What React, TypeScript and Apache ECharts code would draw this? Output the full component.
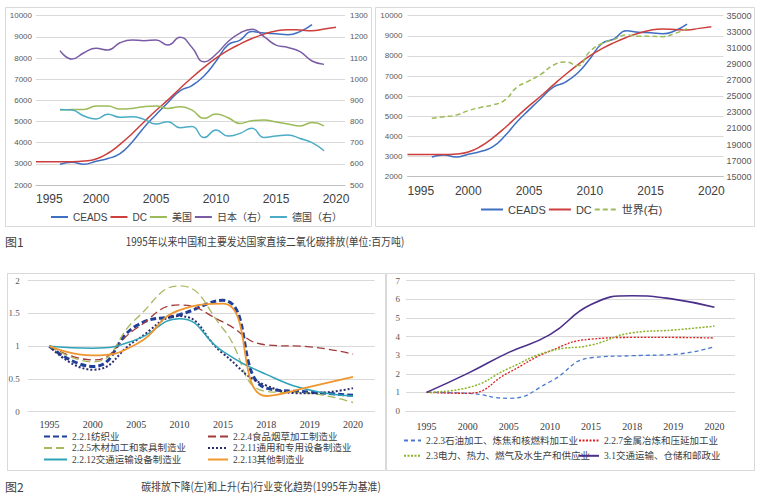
import React, { useEffect, useRef } from 'react';
import * as echarts from 'echarts';

// ---------- Figure 1 data ----------
const dcYears = [1995, 1996, 1997, 1998, 1999, 2000, 2001, 2002, 2003, 2004, 2005, 2006, 2007, 2008, 2009, 2010, 2011, 2012, 2013, 2014, 2015, 2016, 2017, 2018, 2019, 2020];
const dcValues = [3100, 3100, 3100, 3100, 3130, 3230, 3500, 3920, 4420, 4980, 5520, 6020, 6560, 7080, 7560, 8000, 8360, 8660, 8920, 9130, 9280, 9340, 9320, 9290, 9370, 9450];
const ceadsYears = [1997, 1998, 1999, 2000, 2001, 2002, 2003, 2004, 2005, 2006, 2007, 2008, 2009, 2010, 2011, 2012, 2013, 2014, 2015, 2016, 2017, 2018];
const ceadsValues = [2980, 3080, 2980, 3120, 3250, 3480, 4020, 4720, 5320, 5900, 6450, 6700, 7150, 7850, 8620, 8850, 9250, 9180, 9150, 9100, 9250, 9580];
const devYears = [1997, 1998, 1999, 2000, 2001, 2002, 2003, 2004, 2005, 2006, 2007, 2008, 2009, 2010, 2011, 2012, 2013, 2014, 2015, 2016, 2017, 2018, 2019];
const usValues = [5540, 5570, 5570, 5730, 5730, 5590, 5620, 5700, 5730, 5620, 5700, 5540, 5150, 5350, 5180, 4910, 5040, 5070, 4980, 4880, 4790, 4950, 4790];
const japanValues = [1135, 1095, 1125, 1146, 1138, 1172, 1185, 1182, 1185, 1161, 1198, 1150, 1082, 1118, 1177, 1218, 1236, 1201, 1161, 1150, 1130, 1086, 1070];
const germanyValues = [857, 854, 826, 812, 834, 820, 823, 810, 788, 799, 771, 776, 724, 760, 731, 744, 768, 725, 731, 736, 720, 700, 662];
const worldYears = [1997, 1998, 1999, 2000, 2001, 2002, 2003, 2004, 2005, 2006, 2007, 2008, 2009, 2010, 2011, 2012, 2013, 2014, 2015, 2016, 2017, 2018];
const worldValues = [22250, 22450, 22650, 23200, 23600, 23900, 24500, 26100, 26900, 27750, 28850, 29250, 28800, 30550, 31550, 32050, 32600, 32450, 32450, 32400, 32800, 33400];

// ---------- Figure 2 data ----------
const sectorCats = ['1995', '2000', '2005', '2010', '2015', '2018', '2019', '2020'];
const s221 = [1, 0.69, 1.31, 1.48, 1.7, 0.36, 0.3, 0.25];
const s224 = [1, 0.79, 1.27, 1.63, 1.37, 1.02, 0.99, 0.88];
const s225 = [1, 0.76, 1.42, 1.92, 1.27, 0.31, 0.28, 0.14];
const s2211 = [1, 0.64, 1.09, 1.46, 0.89, 0.4, 0.28, 0.36];
const s2212 = [1, 0.97, 1.1, 1.42, 0.92, 0.57, 0.33, 0.24];
const s2213 = [1, 0.86, 1.03, 1.55, 1.65, 0.24, 0.38, 0.53];
const s223 = [1, 0.95, 0.68, 1.57, 2.86, 2.97, 3.04, 3.45];
const s227 = [1, 0.95, 2.07, 3.22, 3.86, 3.95, 3.95, 3.92];
const s23 = [1, 1.25, 2.29, 3.22, 3.54, 4.2, 4.35, 4.56];
const s31 = [1, 2.02, 3.15, 4.1, 5.72, 6.19, 6.01, 5.57];

const n221 = '2.2.1纺织业';
const n224 = '2.2.4食品烟草加工制造业';
const n225 = '2.2.5木材加工和家具制造业';
const n2211 = '2.2.11通用和专用设备制造业';
const n2212 = '2.2.12交通运输设备制造业';
const n2213 = '2.2.13其他制造业';
const n223 = '2.2.3石油加工、炼焦和核燃料加工业';
const n227 = '2.2.7金属冶炼和压延加工业';
const n23 = '2.3电力、热力、燃气及水生产和供应业';
const n31 = '3.1交通运输、仓储和邮政业';

const pairs = (xs: number[], ys: number[]) => xs.map((x, i) => [x, ys[i]]);

const SANS = "'Liberation Sans', 'Noto Sans CJK SC', sans-serif";
const SERIF = "'Liberation Serif', 'Noto Sans CJK SC', serif";
const CJK = "'Noto Sans CJK SC', sans-serif";
const GRID_C = '#d9d9d9';
const TXT = '#404040';

const yearFmt = (v: number) => (Math.abs(v % 5) < 1e-6 ? String(v) : '');
const plainFmt = (v: number) => String(v);

function lineSeries(name: string, xi: number, yi: number, data: any, color: string, width: number, type: any = 'solid') {
  return {
    name,
    type: 'line',
    xAxisIndex: xi,
    yAxisIndex: yi,
    data,
    smooth: true,
    symbol: 'none',
    lineStyle: { color, width, type },
    itemStyle: { color },
    emphasis: { disabled: true },
  };
}

function buildOption(): any {
  const yearAxis = (gi: number, max: number) => ({
    type: 'value',
    gridIndex: gi,
    min: 1995,
    max,
    interval: 5,
    axisLine: { show: true, lineStyle: { color: '#bfbfbf', width: 1 } },
    axisTick: { show: false },
    splitLine: { show: false },
    axisLabel: { fontSize: 12, color: TXT, margin: 8, fontFamily: SANS, formatter: yearFmt, alignMinLabel: 'left', showMaxLabel: false },
  });
  const catAxis = (gi: number, margin: number) => ({
    type: 'category',
    gridIndex: gi,
    data: sectorCats,
    boundaryGap: true,
    axisLine: { show: true, lineStyle: { color: GRID_C } },
    axisTick: { show: false },
    axisLabel: { fontSize: 10, color: TXT, margin, fontFamily: SERIF, interval: 0 },
  });
  const valAxis = (gi: number, min: number, max: number, interval: number, extra: any) => ({
    type: 'value',
    gridIndex: gi,
    min,
    max,
    interval,
    axisLine: { show: false },
    axisTick: { show: false },
    splitLine: { show: true, lineStyle: { color: GRID_C, width: 1 } },
    ...extra,
  });
  const smallLegendText = { fontSize: 9.5, lineHeight: 11, color: TXT, fontFamily: SERIF };
  const hideSym = { opacity: 0 };
  const legendBase = { padding: 0, selectedMode: false, itemStyle: hideSym };

  return {
    animation: false,
    backgroundColor: '#ffffff',
    grid: [
      { left: 36, top: 15.7, width: 309, height: 169.3, outerBoundsMode: 'none', containLabel: false },
      { left: 407.5, top: 15.7, width: 316, height: 161, outerBoundsMode: 'none', containLabel: false },
      { left: 27.7, top: 280.7, width: 347, height: 131, outerBoundsMode: 'none', containLabel: false },
      { left: 406, top: 280.7, width: 329, height: 130.3, outerBoundsMode: 'none', containLabel: false },
    ],
    xAxis: [yearAxis(0, 2020.75), yearAxis(1, 2021), catAxis(2, 8), catAxis(3, 10)],
    yAxis: [
      valAxis(0, 2000, 10000, 1000, { axisLabel: { fontSize: 8, color: '#595959', margin: 4, fontFamily: SANS, formatter: plainFmt } }),
      valAxis(0, 500, 1300, 100, { position: 'right', splitLine: { show: false }, axisLabel: { fontSize: 8, color: '#595959', margin: 5, fontFamily: SANS, formatter: plainFmt } }),
      valAxis(1, 2000, 10000, 1000, { axisLabel: { fontSize: 8, color: '#595959', margin: 5, fontFamily: SANS, formatter: plainFmt } }),
      valAxis(1, 15000, 35000, 1000, {
        position: 'right',
        splitLine: { show: false },
        axisLabel: { fontSize: 9, color: '#595959', margin: 3, fontFamily: SANS, formatter: (v: number) => (Math.round(v / 1000) % 2 === 1 ? String(v) : '') },
      }),
      valAxis(2, 0, 2, 0.5, { axisLabel: { fontSize: 9, color: '#595959', margin: 8, fontFamily: SERIF, formatter: plainFmt } }),
      valAxis(3, 0, 7, 1, { axisLabel: { fontSize: 9, color: '#595959', margin: 6, fontFamily: SERIF, formatter: plainFmt } }),
    ],
    legend: [
      {
        ...legendBase,
        data: ['CEADS', 'DC', '美国', '日本（右）', '德国（右）'],
        left: 50, top: 212, itemWidth: 17, itemHeight: 10, itemGap: 2,
        textStyle: { fontSize: 10, color: TXT, fontFamily: SANS },
      },
      {
        ...legendBase,
        data: ['CEADS', 'DC', '世界(右)'],
        left: 480, top: 204, itemWidth: 22, itemHeight: 10, itemGap: 2,
        textStyle: { fontSize: 11, color: TXT, fontFamily: SANS },
      },
      {
        ...legendBase,
        data: [n221, n225, n2212], orient: 'vertical',
        left: 43, top: 431, itemWidth: 23, itemHeight: 8, itemGap: 0.5,
        textStyle: smallLegendText,
      },
      {
        ...legendBase,
        data: [n224, n2211, n2213], orient: 'vertical',
        left: 207, top: 431, itemWidth: 20, itemHeight: 8, itemGap: 0.5,
        textStyle: smallLegendText,
      },
      {
        ...legendBase,
        data: [n223, n23], orient: 'vertical',
        left: 403, top: 435, itemWidth: 17, itemHeight: 8, itemGap: 4.3,
        textStyle: smallLegendText,
      },
      {
        ...legendBase,
        data: [n227, n31], orient: 'vertical',
        left: 578, top: 435, itemWidth: 20, itemHeight: 8, itemGap: 4.3,
        textStyle: smallLegendText,
      },
    ],
    series: [
      lineSeries('CEADS', 0, 0, pairs(ceadsYears, ceadsValues), '#3f6fc0', 1.5),
      lineSeries('DC', 0, 0, pairs(dcYears, dcValues), '#cc3f3c', 1.5),
      lineSeries('美国', 0, 0, pairs(devYears, usValues), '#9bbb59', 1.5),
      lineSeries('日本（右）', 0, 1, pairs(devYears, japanValues), '#7a5ba6', 1.5),
      lineSeries('德国（右）', 0, 1, pairs(devYears, germanyValues), '#4bacc6', 1.5),

      lineSeries('CEADS', 1, 2, pairs(ceadsYears, ceadsValues), '#3f6fc0', 1.5),
      lineSeries('DC', 1, 2, pairs(dcYears, dcValues), '#cc3f3c', 1.5),
      lineSeries('世界(右)', 1, 3, pairs(worldYears, worldValues), '#9bbb59', 1.5, [5, 3]),

      lineSeries(n221, 2, 4, s221, '#1f3f99', 3, [6, 3]),
      lineSeries(n224, 2, 4, s224, '#a33a3a', 1.3, [8, 4]),
      lineSeries(n225, 2, 4, s225, '#a9b85c', 1.3, [8, 4]),
      lineSeries(n2211, 2, 4, s2211, '#2c2d6e', 2, [2, 2]),
      lineSeries(n2212, 2, 4, s2212, '#2ea3b8', 1.5),
      lineSeries(n2213, 2, 4, s2213, '#f0962e', 1.8),

      lineSeries(n223, 3, 5, s223, '#4a7ad0', 1.3, [4, 3]),
      lineSeries(n227, 3, 5, s227, '#e02020', 1.3, [2, 1.5]),
      lineSeries(n23, 3, 5, s23, '#8db32a', 1.5, [2, 1.5]),
      lineSeries(n31, 3, 5, s31, '#4b2f8a', 1.6),
    ],
    graphic: [
      { type: 'rect', shape: { x: 5.5, y: 7.5, width: 366, height: 219 }, style: { fill: 'none', stroke: GRID_C, lineWidth: 1 }, silent: true, z: -1 },
      { type: 'rect', shape: { x: 375.5, y: 7.5, width: 379, height: 219 }, style: { fill: 'none', stroke: GRID_C, lineWidth: 1 }, silent: true, z: -1 },
      { type: 'rect', shape: { x: 7.5, y: 273.5, width: 378, height: 197 }, style: { fill: 'none', stroke: GRID_C, lineWidth: 1 }, silent: true, z: -1 },
      { type: 'rect', shape: { x: 386.5, y: 273.5, width: 368, height: 197 }, style: { fill: 'none', stroke: GRID_C, lineWidth: 1 }, silent: true, z: -1 },
      { type: 'text', x: 5, y: 241, style: { text: '图1', fontSize: 12, fontFamily: CJK, fill: TXT, align: 'left', verticalAlign: 'middle' } },
      { type: 'text', x: 265, y: 241, scaleX: 0.86, style: { text: '1995年以来中国和主要发达国家直接二氧化碳排放(单位:百万吨)', fontSize: 11.5, fontFamily: CJK, fill: TXT, align: 'center', verticalAlign: 'middle' } },
      { type: 'text', x: 5, y: 486, style: { text: '图2', fontSize: 12, fontFamily: CJK, fill: TXT, align: 'left', verticalAlign: 'middle' } },
      { type: 'text', x: 261, y: 486, scaleX: 0.86, style: { text: '碳排放下降(左)和上升(右)行业变化趋势(1995年为基准)', fontSize: 11.5, fontFamily: CJK, fill: TXT, align: 'center', verticalAlign: 'middle' } },
    ],
  };
}

export default function App() {
  const ref = useRef<HTMLDivElement>(null);
  useEffect(() => {
    if (!ref.current) return;
    const chart = echarts.init(ref.current, null, { renderer: 'svg' });
    chart.setOption(buildOption());
    return () => chart.dispose();
  }, []);
  return (
    <div
      ref={ref}
      style={{ position: 'absolute', left: 0, top: 0, width: 759, height: 499, background: '#ffffff' }}
    />
  );
}
